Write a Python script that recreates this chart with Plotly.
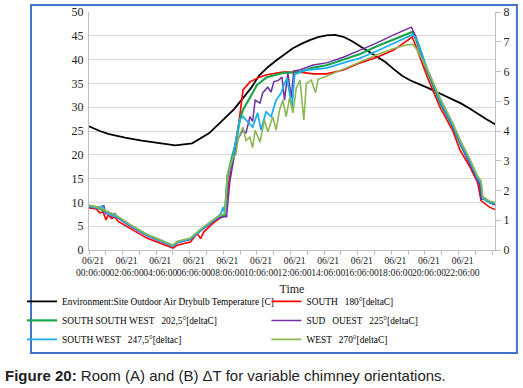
import plotly.graph_objects as go

# ---------------- data ----------------
# Outdoor air drybulb temperature [C] (left axis), x in hours of 06/21
env_t = [-0.14, 0.5, 1, 2, 3, 4, 5, 6, 6.5, 7, 7.5, 8, 8.5, 9, 9.5, 10, 10.5, 11, 11.5, 12,
         12.5, 13, 13.5, 14, 14.5, 15, 15.5, 16, 16.5, 17, 17.5, 18, 18.5, 19, 19.5, 20,
         20.5, 21, 21.5, 22, 22.5, 23, 23.5, 24.03]
env_v = [26.0, 25.0, 24.4, 23.6, 23.0, 22.5, 22.0, 22.4, 23.5, 24.5, 26.2, 27.8, 29.6, 31.8,
         34.0, 36.7, 38.4, 39.8, 41.1, 42.4, 43.3, 44.1, 44.7, 45.1, 45.2, 44.8, 43.9, 42.8,
         41.8, 40.7, 39.5, 38.0, 36.6, 35.6, 34.9, 34.1, 33.3, 32.5, 31.7, 30.8, 29.8, 28.6,
         27.5, 26.4]

# SOUTH 180° [deltaC] (right axis)
south_t = [-0.14, 0.3, 0.5, 0.7, 0.87, 1.0, 1.2, 1.4, 1.6, 2.3, 2.8, 3.3, 4.26, 4.86, 5.1, 5.9,
           6.3, 6.5, 6.7, 7.2, 7.7, 7.95, 8.2, 8.43, 8.75, 8.9, 9.03, 9.44, 10.0, 10.45, 11.4,
           12.4, 13.2, 14.0, 15.0, 16.0, 17.0, 18.0, 18.8, 19.1, 19.3, 20.0, 20.75, 21.5,
           21.95, 22.55, 23.0, 23.1, 23.2, 23.7, 24.03]
south_v = [1.41, 1.38, 1.25, 1.28, 1.01, 1.18, 1.06, 1.12, 0.96, 0.74, 0.58, 0.40, 0.19, 0.06,
           0.16, 0.27, 0.56, 0.38, 0.61, 0.88, 1.10, 1.17, 2.32, 3.04, 4.16, 4.80, 5.38, 5.65,
           5.81, 5.89, 5.98, 5.98, 5.92, 5.92, 6.05, 6.29, 6.48, 6.72, 7.04, 7.16, 6.88, 5.81,
           4.80, 4.03, 3.36, 2.78, 2.26, 2.00, 1.66, 1.44, 1.36]

# SOUTH SOUTH WEST 202,5° [deltaC]
ssw_t = [-0.14, 0.3, 0.6, 1.0, 1.3, 1.6, 2.3, 3.3, 4.26, 4.86, 5.1, 5.9, 6.5, 6.9, 7.5, 7.95,
         8.1, 8.3, 8.6, 8.85, 9.03, 9.44, 9.86, 10.45, 11.4, 12.4, 13.2, 14.0, 15.0, 16.0,
         17.0, 18.0, 18.8, 19.1, 19.3, 20.0, 20.75, 21.5, 22.0, 22.55, 23.0, 23.15, 23.25,
         23.7, 24.03]
ssw_v = [1.49, 1.44, 1.36, 1.25, 1.17, 1.09, 0.83, 0.51, 0.29, 0.14, 0.27, 0.38, 0.67, 0.85,
         1.09, 1.18, 2.48, 2.96, 3.60, 4.40, 4.72, 5.12, 5.55, 5.81, 5.95, 5.98, 6.13, 6.21,
         6.40, 6.59, 6.85, 7.09, 7.28, 7.33, 7.12, 6.00, 4.96, 4.16, 3.52, 2.93, 2.40, 2.21,
         1.76, 1.60, 1.54]

# SUD OUEST 225° [deltaC]
so_t = [-0.14, 0.3, 0.75, 0.85, 1.0, 1.2, 1.4, 1.6, 2.3, 3.3, 4.26, 4.86, 5.1, 5.9, 6.5, 6.9,
        7.5, 7.9, 8.05, 8.25, 8.43, 8.67, 9.03, 9.2, 9.44, 9.6, 9.75, 10.04, 10.2, 10.5, 10.7,
        10.86, 11.15, 11.35, 11.5, 11.7, 11.9, 12.05, 12.4, 13.2, 14.0, 15.0, 16.0, 17.0,
        18.0, 18.8, 19.05, 19.3, 20.0, 20.75, 21.5, 22.0, 22.55, 23.0, 23.1, 23.2, 23.45,
        23.7, 24.03]
so_v = [1.44, 1.41, 1.49, 1.20, 1.28, 1.12, 1.22, 1.07, 0.80, 0.48, 0.26, 0.11, 0.24, 0.35,
        0.64, 0.82, 1.06, 1.12, 1.12, 2.32, 2.96, 3.68, 4.03, 3.92, 4.48, 4.32, 5.04, 4.94,
        5.28, 5.47, 5.31, 5.65, 5.71, 5.81, 5.04, 5.95, 5.12, 6.02, 6.05, 6.22, 6.29, 6.48,
        6.72, 6.96, 7.23, 7.44, 7.49, 7.20, 6.05, 4.99, 4.16, 3.52, 2.88, 2.34, 2.21, 1.70,
        1.73, 1.60, 1.52]

# SOUTH WEST 247,5° [deltaC]
sw_t = [-0.14, 0.4, 0.65, 0.9, 1.2, 1.6, 2.3, 3.3, 4.26, 4.86, 5.1, 5.9, 6.5, 6.9, 7.5, 7.7,
        7.85, 7.95, 8.1, 8.43, 8.7, 8.85, 9.03, 9.3, 9.6, 9.9, 10.1, 10.4, 10.7, 11.0, 11.3,
        11.5, 11.65, 11.8, 11.95, 12.1, 12.3, 12.8, 14.0, 15.0, 16.0, 17.0, 18.0, 18.8,
        19.15, 19.4, 20.0, 20.75, 21.5, 22.0, 22.55, 23.0, 23.2, 23.3, 23.7, 24.03]
sw_v = [1.47, 1.41, 1.47, 1.25, 1.17, 1.10, 0.83, 0.50, 0.27, 0.13, 0.26, 0.37, 0.66, 0.83,
        1.09, 1.22, 1.44, 1.20, 2.40, 3.12, 3.92, 4.40, 4.48, 4.30, 4.13, 4.61, 4.03, 4.64,
        4.48, 5.04, 5.28, 5.60, 5.78, 5.28, 4.80, 5.89, 5.95, 6.05, 6.11, 6.29, 6.45, 6.69,
        6.96, 7.17, 7.25, 7.04, 6.08, 5.04, 4.21, 3.57, 2.96, 2.40, 2.24, 1.73, 1.60, 1.57]

# WEST 270° [deltaC]
w_t = [-0.14, 0.5, 1.0, 1.3, 1.6, 2.3, 3.3, 4.26, 4.86, 5.1, 5.9, 6.5, 6.9, 7.5, 7.95, 8.1,
       8.43, 8.6, 8.75, 9.03, 9.2, 9.44, 9.6, 9.75, 10.04, 10.3, 10.5, 10.8, 11.0, 11.2, 11.4,
       11.6, 11.8, 12.0, 12.2, 12.42, 12.65, 12.8, 13.1, 13.35, 13.5, 14.0, 15.0, 16.0, 17.0,
       18.0, 18.8, 19.15, 19.4, 20.0, 20.75, 21.5, 22.0, 22.55, 23.0, 23.2, 23.3, 23.7, 24.03]
w_v = [1.50, 1.42, 1.28, 1.22, 1.12, 0.86, 0.53, 0.30, 0.16, 0.29, 0.40, 0.70, 0.88, 1.12,
       1.22, 2.53, 3.12, 3.20, 3.76, 4.13, 3.68, 3.79, 3.44, 4.03, 3.63, 4.37, 3.97, 4.48,
       4.03, 4.70, 5.04, 4.48, 5.12, 4.61, 5.44, 5.71, 4.37, 5.60, 5.71, 5.28, 5.74, 5.84,
       6.08, 6.32, 6.56, 6.77, 6.90, 6.91, 6.72, 6.08, 5.12, 4.29, 3.65, 3.04, 2.48, 2.32,
       1.79, 1.65, 1.60]

label_pos = [0.1, 2.1, 4.1, 6.1, 8.1, 10.1, 12.1, 14.1, 16.1, 18.1, 20.1, 22.1]
label_txt = ["06/21<br>%02d:06:00" % h for h in range(0, 24, 2)]
hour_ticks = [-0.14 + k for k in range(25)]

names = ["Environment:Site Outdoor Air Drybulb Temperature [C]",
         "SOUTH   180°[deltaC]",
         "SOUTH SOUTH WEST   202,5°[deltaC]",
         "SUD   OUEST   225°[deltaC]",
         "SOUTH WEST   247,5°[deltac]",
         "WEST   270°[deltaC]"]

# ---------------- figure ----------------
fig = go.Figure()
fig.add_trace(go.Scatter(x=env_t, y=env_v, mode="lines", name=names[0], legend="legend",
                         line=dict(color="#000000", width=1.8)))
fig.add_trace(go.Scatter(x=south_t, y=south_v, mode="lines", name=names[1], yaxis="y2",
                         legend="legend2", line=dict(color="#FF0000", width=1.6)))
fig.add_trace(go.Scatter(x=ssw_t, y=ssw_v, mode="lines", name=names[2], yaxis="y2",
                         legend="legend", line=dict(color="#1AA64A", width=2.2)))
fig.add_trace(go.Scatter(x=so_t, y=so_v, mode="lines", name=names[3], yaxis="y2",
                         legend="legend2", line=dict(color="#7030A0", width=1.5)))
fig.add_trace(go.Scatter(x=sw_t, y=sw_v, mode="lines", name=names[4], yaxis="y2",
                         legend="legend", line=dict(color="#1CB0EC", width=1.8)))
fig.add_trace(go.Scatter(x=w_t, y=w_v, mode="lines", name=names[5], yaxis="y2",
                         legend="legend2", line=dict(color="#8DB654", width=1.6)))

serif = "Liberation Serif"
leg_common = dict(orientation="v", yanchor="top", itemwidth=30, tracegroupgap=0,
                  font=dict(family=serif, size=9.4, color="#000000"),
                  bgcolor="rgba(0,0,0,0)", borderwidth=0)
fig.update_layout(
    width=523, height=388,
    margin=dict(l=89, r=28, t=12, b=138, autoexpand=False),
    paper_bgcolor="white", plot_bgcolor="white",
    font=dict(family=serif, size=11, color="#222222"),
    xaxis=dict(range=[-0.14, 24.03], tickmode="array", tickvals=label_pos, ticktext=label_txt,
               tickangle=0, automargin=False, ticklabelstandoff=1,
               ticks="", showgrid=False, zeroline=False, showline=True, linecolor="#BFBFBF",
               tickfont=dict(family=serif, size=9.6, color="#222222"),
               minor=dict(tickmode="array", tickvals=hour_ticks, ticks="outside", ticklen=4,
                          tickcolor="#BFBFBF", showgrid=False),
               title=dict(text="Time", font=dict(family=serif, size=12, color="#222222"), standoff=7)),
    yaxis=dict(range=[0, 50], dtick=5, showgrid=True, gridcolor="#D9D9D9", zeroline=False,
               showline=True, linecolor="#BFBFBF", ticks="", automargin=False,
               ticklabelstandoff=2,
               tickfont=dict(family=serif, size=12, color="#222222")),
    yaxis2=dict(range=[0, 8], dtick=1, overlaying="y", side="right", showgrid=False,
                zeroline=False, showline=True, linecolor="#BFBFBF", ticks="outside",
                ticklen=5, tickcolor="#BFBFBF", automargin=False,
                tickfont=dict(family=serif, size=12, color="#222222")),
    showlegend=True,
    legend=dict(x=-0.165, xanchor="left", y=-0.155, **leg_common),
    legend2=dict(x=0.437, xanchor="left", y=-0.155, **leg_common),
    shapes=[dict(type="rect", xref="paper", yref="paper", x0=-0.1429, x1=1.054,
                 y0=-0.4328, y1=1.0294, line=dict(color="#4472C4", width=2),
                 fillcolor="rgba(0,0,0,0)", layer="below")],
    annotations=[dict(xref="paper", yref="paper", x=-0.2118, y=-0.529, xanchor="left",
                      yanchor="middle", showarrow=False, align="left",
                      text="<b>Figure 20:</b> Room (A) and (B) ΔT for variable chimney orientations.",
                      font=dict(family="Liberation Sans", size=15, color="#222222"))],
)

fig.write_html("out.html", config={"displayModeBar": False},
               post_script="document.body.style.margin='0px';document.body.style.padding='0px';")
